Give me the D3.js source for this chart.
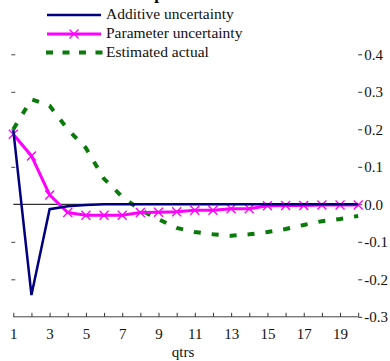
<!DOCTYPE html>
<html>
<head>
<meta charset="utf-8">
<script src="https://cdn.jsdelivr.net/npm/d3@7"></script>
<style>
  body { margin: 0; background: #fff; }
  svg { display: block; font-family: "Liberation Serif", "Times New Roman", serif; }
</style>
</head>
<body>
<div id="chart"></div>
<script>
// quarters 1..20
const qtrs = d3.range(1, 21);

// series values
const additive = [0.198, -0.242, -0.013, -0.005, -0.002, 0, 0, 0, 0, 0, 0, 0, 0, 0, 0, 0, 0, 0, 0, 0];
const parameter = [0.187, 0.129, 0.025, -0.022, -0.029, -0.029, -0.029, -0.022, -0.021, -0.02, -0.016, -0.016, -0.012, -0.012, -0.004, -0.003, -0.003, -0.002, -0.002, -0.002];
const estimated = [0.2, 0.28, 0.263, 0.2, 0.15, 0.068, 0.02, -0.015, -0.04, -0.063, -0.074, -0.08, -0.084, -0.08, -0.074, -0.066, -0.055, -0.045, -0.039, -0.031];

const yTicks = [0.4, 0.3, 0.2, 0.1, 0.0, -0.1, -0.2, -0.3];
const xLabels = [1, 3, 5, 7, 9, 11, 13, 15, 17, 19];
const legendNames = ["Additive uncertainty", "Parameter uncertainty", "Estimated actual"];

const width = 390, height = 361;

const x = d3.scaleLinear().domain([1, 20]).range([13.3, 358.2]);
const y = d3.scaleLinear().domain([-0.3, 0.4]).range([316.8, 54.3]);

const svg = d3.select("#chart").append("svg")
  .attr("width", width)
  .attr("height", height);

// title, cropped off at the top (only a descender shows)
svg.append("text")
  .attr("x", 126).attr("y", -1.5)
  .attr("font-weight", "bold")
  .attr("font-size", 17)
  .text("Output");

// zero line
svg.append("line")
  .attr("x1", x(1)).attr("x2", x(20))
  .attr("y1", y(0)).attr("y2", y(0))
  .attr("stroke", "#000").attr("stroke-width", 1);

// right axis (ticks + labels, no domain line)
const yRight = svg.append("g")
  .attr("transform", `translate(${x(20)},0)`)
  .call(d3.axisRight(y).tickValues(yTicks).tickSize(4).tickPadding(2)
    .tickFormat(d => d3.format(".1f")(d).replace("−", "-")));
yRight.select(".domain").remove();
yRight.selectAll("text").attr("font-size", 15).attr("font-family", "Liberation Serif, serif").attr("fill", "#111");
yRight.selectAll("line").attr("stroke", "#333");

// left ticks only
const yLeft = svg.append("g")
  .attr("transform", `translate(${x(1) + 2},0)`)
  .call(d3.axisLeft(y).tickValues(yTicks.filter(d => d !== 0 && d !== -0.3)).tickSize(4).tickFormat(""));
yLeft.select(".domain").remove();
yLeft.selectAll("line").attr("stroke", "#444");

// bottom axis
const xAxis = svg.append("g")
  .attr("transform", `translate(0,${y(-0.3)})`)
  .call(d3.axisBottom(x).tickValues(qtrs).tickSize(-4).tickPadding(12)
    .tickFormat(d => xLabels.includes(d) ? d : ""));
xAxis.select(".domain").attr("stroke", "#444").attr("d", `M${x(1)},0H${x(20)}`);
xAxis.selectAll("line").attr("stroke", "#333");
xAxis.selectAll("text").attr("font-size", 15).attr("font-family", "Liberation Serif, serif").attr("fill", "#111");

svg.append("text")
  .attr("x", 183).attr("y", 357)
  .attr("text-anchor", "middle")
  .attr("font-size", 15)
  .attr("fill", "#111")
  .text("qtrs");

const line = d3.line().x((d, i) => x(qtrs[i])).y(d => y(d));

// estimated actual (green dashed)
svg.append("path")
  .datum(estimated)
  .attr("d", line)
  .attr("fill", "none")
  .attr("stroke", "#0a7a0a")
  .attr("stroke-width", 4)
  .attr("stroke-dasharray", "7,11");

// parameter uncertainty (magenta with x markers)
svg.append("path")
  .datum(parameter)
  .attr("d", line)
  .attr("fill", "none")
  .attr("stroke", "#ff00ff")
  .attr("stroke-width", 3);

function cross(g, cx, cy) {
  const s = 4.5;
  g.append("path")
    .attr("d", `M${cx - s},${cy - s}L${cx + s},${cy + s}M${cx - s},${cy + s}L${cx + s},${cy - s}`)
    .attr("stroke", "#ff00ff")
    .attr("stroke-width", 1.3)
    .attr("fill", "none");
}
const marks = svg.append("g");
parameter.forEach((v, i) => cross(marks, x(qtrs[i]), y(v)));

// additive uncertainty (navy)
svg.append("path")
  .datum(additive)
  .attr("d", line)
  .attr("fill", "none")
  .attr("stroke", "#000080")
  .attr("stroke-width", 2.5);

// legend
const legend = svg.append("g");
const legendY = [15, 34, 52.5];
const lx1 = 47, lx2 = 101;
legend.append("line").attr("x1", lx1).attr("x2", lx2).attr("y1", legendY[0]).attr("y2", legendY[0])
  .attr("stroke", "#000080").attr("stroke-width", 2.5);
legend.append("line").attr("x1", lx1).attr("x2", lx2).attr("y1", legendY[1]).attr("y2", legendY[1])
  .attr("stroke", "#ff00ff").attr("stroke-width", 3);
cross(legend, (lx1 + lx2) / 2, legendY[1]);
legend.append("line").attr("x1", lx1 - 1).attr("x2", lx2 + 2).attr("y1", legendY[2]).attr("y2", legendY[2])
  .attr("stroke", "#0a7a0a").attr("stroke-width", 4).attr("stroke-dasharray", "7,9.5");
legend.selectAll("text.lg")
  .data(legendNames)
  .enter().append("text")
  .attr("class", "lg")
  .attr("x", 106)
  .attr("y", (d, i) => legendY[i] + 4)
  .attr("font-size", 15.5)
  .attr("fill", "#111")
  .text(d => d);
</script>
</body>
</html>
